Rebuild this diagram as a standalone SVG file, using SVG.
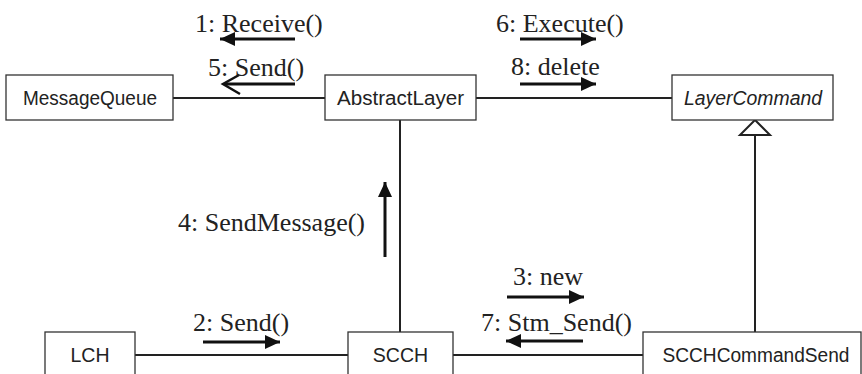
<svg xmlns="http://www.w3.org/2000/svg" width="862" height="374" viewBox="0 0 862 374">
<style>
.box{fill:#fff;stroke:#333;stroke-width:1.3}
.nt{font-family:"Liberation Sans",Arial,sans-serif;font-size:19.5px;fill:#222;text-anchor:middle}
.lbl{font-family:"Liberation Serif","Times New Roman",serif;font-size:26px;fill:#222}
.link{stroke:#222;stroke-width:2;fill:none}
.msg{stroke:#111;stroke-width:3;fill:none}
.open{stroke:#111;stroke-width:2.5;fill:none}
</style>
<defs>
<marker id="fh" markerUnits="userSpaceOnUse" markerWidth="16" markerHeight="14" refX="15" refY="7" orient="auto">
<path d="M0,0 L15,7 L0,14 Z" fill="#111"/>
</marker>
</defs>
<rect width="862" height="374" fill="#fff"/>
<g id="connectors">
<line class="link" x1="173" y1="98" x2="325" y2="98"/>
<line class="link" x1="476" y1="98" x2="672" y2="98"/>
<line class="link" x1="400" y1="120" x2="400" y2="332"/>
<line class="link" x1="135" y1="355" x2="348" y2="355"/>
<line class="link" x1="453" y1="355" x2="643" y2="355"/>
<line class="link" x1="755" y1="135" x2="755" y2="332"/>
<polygon points="755,120 740,135 770,135" fill="#fff" stroke="#222" stroke-width="2"/>
<line class="msg" x1="295" y1="39" x2="220" y2="39" marker-end="url(#fh)"/>
<line class="msg" x1="295" y1="84" x2="224" y2="84"/>
<polyline class="open" points="239,75 223,84 240,94"/>
<line class="msg" x1="520" y1="39" x2="596" y2="39" marker-end="url(#fh)"/>
<line class="msg" x1="520" y1="84" x2="596" y2="84" marker-end="url(#fh)"/>
<line class="msg" x1="385" y1="257" x2="385" y2="182" marker-end="url(#fh)"/>
<line class="msg" x1="203" y1="342" x2="280" y2="342" marker-end="url(#fh)"/>
<line class="msg" x1="507" y1="297" x2="584" y2="297" marker-end="url(#fh)"/>
<line class="msg" x1="583" y1="341" x2="506" y2="341" marker-end="url(#fh)"/>
<text class="lbl" x="195" y="32">1: Receive()</text>
<text class="lbl" x="208" y="76">5: Send()</text>
<text class="lbl" x="496" y="32">6: Execute()</text>
<text class="lbl" x="511" y="75">8: delete</text>
<text class="lbl" x="178" y="231">4: SendMessage()</text>
<text class="lbl" x="193" y="331">2: Send()</text>
<text class="lbl" x="513" y="285">3: new</text>
<text class="lbl" x="481" y="331">7: Stm_Send()</text>
</g>
<g id="MessageQueue">
<rect class="box" x="6" y="75" width="167" height="45"/>
<text class="nt" x="90" y="104.5" textLength="134" lengthAdjust="spacingAndGlyphs">MessageQueue</text>
</g>
<g id="AbstractLayer">
<rect class="box" x="325" y="75" width="151" height="45"/>
<text class="nt" x="400.5" y="104.5" textLength="127" lengthAdjust="spacingAndGlyphs">AbstractLayer</text>
</g>
<g id="LayerCommand">
<rect class="box" x="672" y="75" width="161" height="45"/>
<text class="nt" x="753" y="104.5" font-style="italic" textLength="138" lengthAdjust="spacingAndGlyphs">LayerCommand</text>
</g>
<g id="LCH">
<rect class="box" x="45" y="332" width="90" height="45"/>
<text class="nt" x="90" y="361.5">LCH</text>
</g>
<g id="SCCH">
<rect class="box" x="348" y="332" width="105" height="45"/>
<text class="nt" x="400.5" y="361.5">SCCH</text>
</g>
<g id="SCCHCommandSend">
<rect class="box" x="643" y="332" width="218" height="45"/>
<text class="nt" x="756" y="361.5" textLength="187" lengthAdjust="spacingAndGlyphs">SCCHCommandSend</text>
</g>
</svg>
